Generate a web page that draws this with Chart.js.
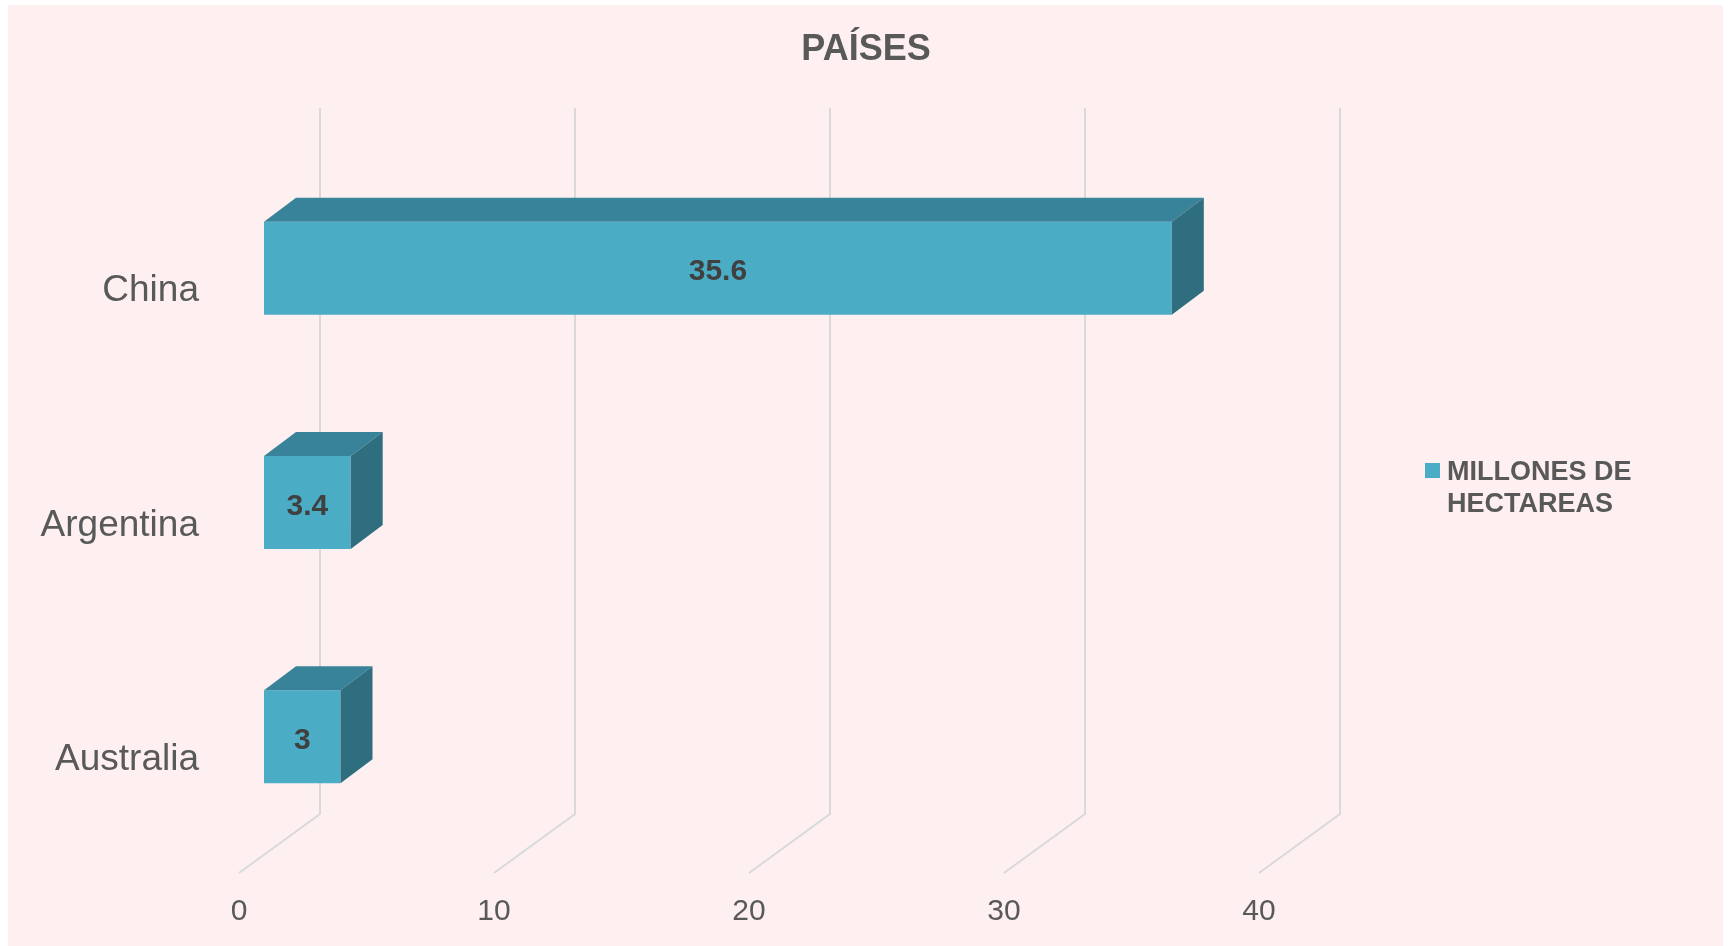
<!DOCTYPE html>
<html>
<head>
<meta charset="utf-8">
<script src="https://cdn.jsdelivr.net/npm/chart.js@4"></script>
<style>
  body { margin: 0; background: #ffffff; }
  #wrap { width: 1729px; height: 946px; }
</style>
</head>
<body>
<div id="wrap"><canvas id="paises" width="1729" height="946"></canvas></div>
<script>
// datos
const categories = ['China', 'Argentina', 'Australia'];
const hectareas = [35.6, 3.4, 3];
const xTicks = [0, 10, 20, 30, 40];
const seriesName = ['MILLONES DE', 'HECTAREAS'];

const FONT = '"Liberation Sans", Arial, sans-serif';
const TEXT = '#595959';
const FRONT = '#4BACC6';
const TOP = '#38839A';
const SIDE = '#2F6E7E';
const GRID = '#D9D9D9';

// fondo rosa con el margen blanco
const backgroundPlugin = {
    id: 'background',
    beforeDraw(chart) {
        const ctx = chart.ctx;
        ctx.save();
        ctx.fillStyle = '#FEF0F0';
        ctx.fillRect(8, 5, 1715, 941);
        ctx.restore();
    }
};

// rejilla en perspectiva (pared del fondo + suelo)
const gridPlugin = {
    id: 'grid3d',
    beforeDatasetsDraw(chart) {
        const ctx = chart.ctx;
        const xs = chart.scales.x;
        const area = chart.chartArea;
        ctx.save();
        ctx.strokeStyle = GRID;
        ctx.lineWidth = 2;
        xTicks.forEach(v => {
            const px = xs.getPixelForValue(v);
            ctx.beginPath();
            ctx.moveTo(px + 56, area.top - 43);
            ctx.lineTo(px + 56, area.bottom - 40);
            ctx.lineTo(px - 25, area.bottom + 19);
            ctx.stroke();
        });
        ctx.restore();
    }
};

// caras superior y lateral de las barras + etiquetas
const bar3dPlugin = {
    id: 'bar3d',
    afterDatasetsDraw(chart) {
        const ctx = chart.ctx;
        const meta = chart.getDatasetMeta(0);
        const dx = 32, dy = -24;
        ctx.save();
        meta.data.forEach((bar, i) => {
            const p = bar.getProps(['x', 'y', 'base', 'height'], true);
            const top = p.y - p.height / 2;
            const bottom = p.y + p.height / 2;

            ctx.fillStyle = TOP;
            ctx.beginPath();
            ctx.moveTo(p.base, top);
            ctx.lineTo(p.base + dx, top + dy);
            ctx.lineTo(p.x + dx, top + dy);
            ctx.lineTo(p.x, top);
            ctx.closePath();
            ctx.fill();

            ctx.fillStyle = SIDE;
            ctx.beginPath();
            ctx.moveTo(p.x, top);
            ctx.lineTo(p.x + dx, top + dy);
            ctx.lineTo(p.x + dx, bottom + dy);
            ctx.lineTo(p.x, bottom);
            ctx.closePath();
            ctx.fill();

            ctx.fillStyle = '#404040';
            ctx.font = 'bold 30px ' + FONT;
            ctx.textAlign = 'center';
            ctx.textBaseline = 'middle';
            ctx.fillText(String(hectareas[i]), (p.base + p.x) / 2, p.y + 4);
        });
        ctx.restore();
    }
};

// titulo y leyenda
const labelsPlugin = {
    id: 'titleLegend',
    afterDraw(chart) {
        const ctx = chart.ctx;
        ctx.save();
        ctx.fillStyle = TEXT;
        ctx.font = 'bold 36px ' + FONT;
        ctx.textAlign = 'center';
        ctx.textBaseline = 'alphabetic';
        ctx.fillText('PAÍSES', 866, 60);

        ctx.fillStyle = FRONT;
        ctx.fillRect(1425, 463, 15, 15);
        ctx.fillStyle = TEXT;
        ctx.font = 'bold 27px ' + FONT;
        ctx.textAlign = 'left';
        ctx.fillText(seriesName[0], 1447, 480);
        ctx.fillText(seriesName[1], 1447, 512);
        ctx.restore();
    }
};

new Chart(document.getElementById('paises'), {
    type: 'bar',
    data: {
        labels: categories,
        datasets: [{
            label: seriesName.join(' '),
            data: hectareas,
            backgroundColor: FRONT,
            borderWidth: 0,
            barPercentage: 0.397,
            categoryPercentage: 1
        }]
    },
    options: {
        indexAxis: 'y',
        responsive: false,
        animation: false,
        layout: { padding: { top: 151, left: 0, right: 445, bottom: 0 } },
        plugins: {
            legend: { display: false },
            title: { display: false },
            tooltip: { enabled: false }
        },
        scales: {
            x: {
                min: 0,
                max: 40,
                ticks: {
                    stepSize: 10,
                    color: TEXT,
                    font: { family: FONT, size: 30 },
                    padding: 40,
                    labelOffset: -25
                },
                grid: { display: false, drawTicks: false },
                border: { display: false },
                afterFit(axis) { axis.height = 92; }
            },
            y: {
                ticks: {
                    color: TEXT,
                    font: { family: FONT, size: 37 },
                    padding: 65,
                    labelOffset: 23
                },
                grid: { display: false, drawTicks: false },
                border: { display: false },
                afterFit(axis) { axis.width = 264; }
            }
        }
    },
    plugins: [backgroundPlugin, gridPlugin, bar3dPlugin, labelsPlugin]
});
</script>
</body>
</html>
